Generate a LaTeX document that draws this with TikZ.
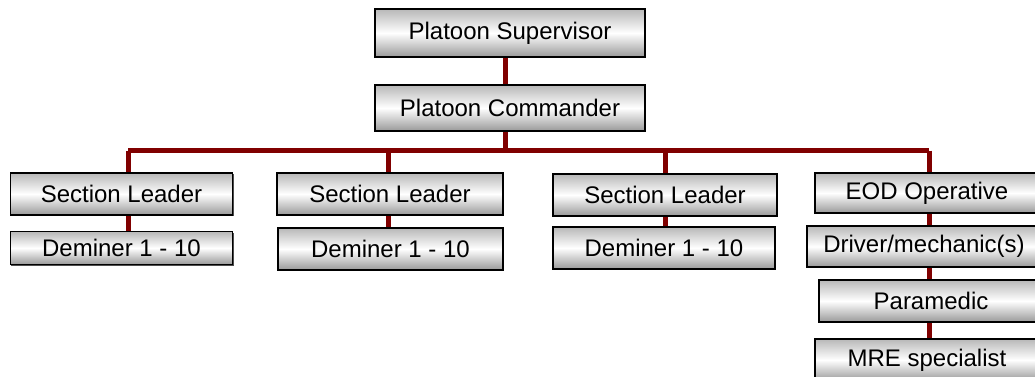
\documentclass[tikz,border=0pt]{standalone}
\usepackage{fontspec}
\setmainfont{Liberation Sans}
\usetikzlibrary{shadows,backgrounds}
\definecolor{linkred}{HTML}{800000}

\begin{document}
\begin{tikzpicture}[
                x=0.75pt, y=-0.75pt,
                post/.style={draw=black, line width=0.9pt, top color=black!28, bottom color=black!40, middle color=white,
                    drop shadow={shadow xshift=0.9pt, shadow yshift=-0.9pt, fill=black, opacity=0.7},
                    inner sep=0pt, font=\fontsize{18}{21}\selectfont, minimum width=168pt, minimum height=31.5pt},
                link/.style={draw=linkred, line width=3.75pt}
            ]
                \clip (0,0) rectangle (1035,376);
                \node[post, minimum width=202.5pt, minimum height=36pt] (sup) at (510,33) {Platoon Supervisor};
                \node[post, minimum width=202.5pt, minimum height=34.5pt] (cmd) at (510,108) {Platoon Commander};
                \node[post, minimum width=167pt] (sl1) at (121.5,194) {Section Leader};
                \node[post, minimum width=167pt, minimum height=24.75pt] (dm1) at (121.5,248) {Deminer 1 - 10};
                \node[post, minimum width=169.5pt] (sl2) at (390,194) {Section Leader};
                \node[post, minimum width=168.75pt] (dm2) at (390.5,249) {Deminer 1 - 10};
                \node[post] (sl3) at (665,195) {Section Leader};
                \node[post, minimum width=166.5pt] (dm3) at (664,248) {Deminer 1 - 10};
                \node[post, minimum height=30pt] (eod) at (927,193) {EOD Operative};
                \node[post, minimum width=175.5pt, minimum height=30.75pt] (drv) at (924,246.5) {Driver/mechanic(s)};
                \node[post] (par) at (931,301) {Paramedic};
                \node[post] (mre) at (927,360) {MRE specialist};
                \coordinate (b0) at (505,150.5);
                \coordinate (b1) at (128,150.5);
                \coordinate (b2) at (388,150.5);
                \coordinate (b3) at (665,150.5);
                \coordinate (b4) at (929,150.5);
                \begin{scope}[on background layer]
                    \draw[link] (b0 |- sup.south) -- (b0 |- cmd.north);
                    \draw[link] (b0 |- cmd.south) -- ([yshift=-2pt]b0);
                    \draw[link] (b1) -- (b4);
                    \draw[link] (b1) -- (b1 |- sl1.north);
                    \draw[link] (b1 |- sl1.south) -- (b1 |- dm1.north);
                    \draw[link] (b2) -- (b2 |- sl2.north);
                    \draw[link] (b2 |- sl2.south) -- (b2 |- dm2.north);
                    \draw[link] (b3) -- (b3 |- sl3.north);
                    \draw[link] (b3 |- sl3.south) -- (b3 |- dm3.north);
                    \draw[link] (b4) -- (b4 |- eod.north);
                    \draw[link] (b4 |- eod.south) -- (b4 |- drv.north);
                    \draw[link] (b4 |- drv.south) -- (b4 |- par.north);
                    \draw[link] (b4 |- par.south) -- (b4 |- mre.north);
                \end{scope}
            \end{tikzpicture}
\end{document}
